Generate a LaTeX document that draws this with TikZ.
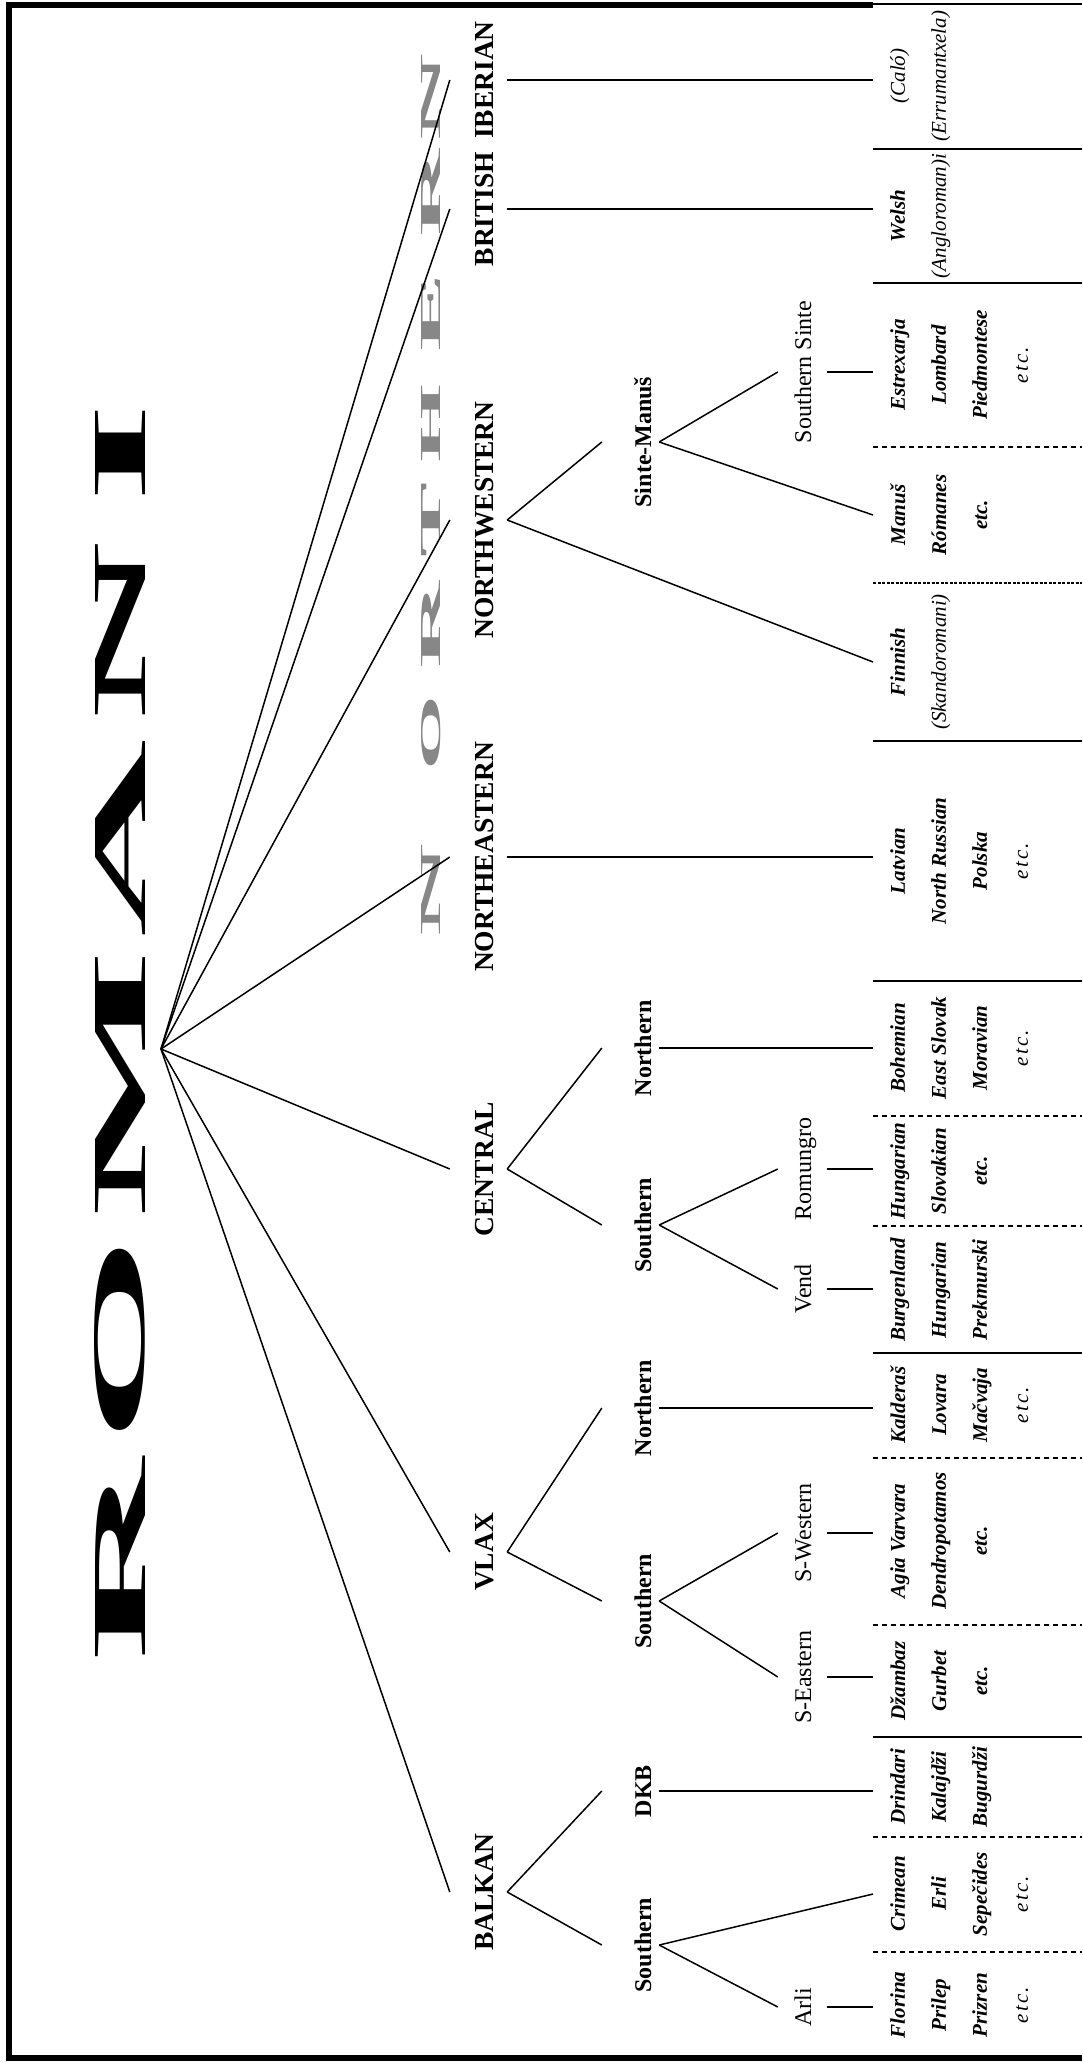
\documentclass[tikz,border=0pt]{standalone}
\usepackage{fontspec}
\setmainfont{Liberation Serif}
\usepackage{graphicx}

\definecolor{ghost}{gray}{0.53}
\newcommand\litetext[1]{{\mdseries #1}}
\newcommand\etcnote{{\mdseries\addfontfeature{LetterSpace=10}etc.}}

\tikzset{
  famlabel/.style={rotate=90, anchor=base, inner sep=0pt, text height=43pt, text depth=14pt,
    font=\fontsize{27.5}{30}\selectfont\bfseries},
  grouplabel/.style={rotate=90, anchor=base, inner sep=0pt, text height=49pt, text depth=8pt,
    font=\fontsize{24}{28}\selectfont\bfseries},
  dialabel/.style={rotate=90, anchor=base, inner sep=0pt, text height=33pt, text depth=16pt,
    font=\fontsize{24}{28}\selectfont},
  cellbox/.style={rotate=90, anchor=north, align=center, inner xsep=0pt, inner ysep=17pt,
    font=\fontsize{21}{41}\selectfont\bfseries\itshape},
  titleletter/.style={rotate=90, inner sep=0pt, font=\bfseries},
  ghostletter/.style={rotate=90, inner sep=0pt, font=\bfseries, text=ghost},
  branch/.style={line width=1.5pt},
  solidsep/.style={line width=1.3pt},
  dashsep/.style={line width=2pt, dash pattern=on 5pt off 4pt},
  densesep/.style={line width=2pt, dash pattern=on 3pt off 1.5pt},
}

\begin{document}
\begin{tikzpicture}[x=1pt,y=-1pt]
  \useasboundingbox (0,0) rectangle (1082,2063);

  % frame
  \draw[line width=5.5pt, line join=miter] (1082,2058) -| (9,5) -- (873,5);
  \draw[solidsep] (873,4) -- (1082,4);

  % title and the grey NORTHERN behind the fan
  \foreach \ch/\yc/\w [count=\i] in {R/1560/203, O/1340/207, M/1083/268, A/838/198, N/630/178, I/453/101}
    \node[titleletter] (title\i) at (120,\yc) {\resizebox{\w pt}{50pt}{\ch}};
  \foreach \ch/\yc/\w [count=\i] in {N/890/93, O/733/75, R/625/87, T/520/75, H/423/78, E/312/78, R/193/87, N/97/87}
    \node[ghostletter] (ghost\i) at (431,\yc) {\resizebox{\w pt}{19pt}{\ch}};

  % table rules
  \foreach \y in {149,283,741,981,1353,1737}
    \draw[solidsep] (873,\y) -- (1082,\y);
  \foreach \y in {447,1116,1226,1458,1625,1837,1952}
    \draw[dashsep] (873,\y) -- (1082,\y);
  \draw[densesep] (873,583) -- (1082,583);

  % branches
  \coordinate (root) at (161,1049);
  \node[famlabel] (iberian) at (493,80) {IBERIAN};
  \node[famlabel] (british) at (493,209) {BRITISH};
  \node[famlabel] (nw) at (493,520) {NORTHWESTERN};
  \node[famlabel] (ne) at (493,857) {NORTHEASTERN};
  \node[famlabel] (central) at (493,1169) {CENTRAL};
  \node[famlabel] (vlax) at (493,1552) {VLAX};
  \node[famlabel] (balkan) at (493,1892) {BALKAN};

  \node[grouplabel] (sintemanus) at (651,442) {Sinte-Manuš};
  \node[grouplabel] (cnorth) at (651,1048) {Northern};
  \node[grouplabel] (csouth) at (651,1225) {Southern};
  \node[grouplabel] (vnorth) at (651,1408) {Northern};
  \node[grouplabel] (vsouth) at (651,1601) {Southern};
  \node[grouplabel] (dkb) at (651,1791) {DKB};
  \node[grouplabel] (bsouth) at (651,1945) {Southern};

  \node[dialabel] (ssinte) at (811,372) {Southern Sinte};
  \node[dialabel] (romungro) at (811,1169) {Romungro};
  \node[dialabel] (vend) at (811,1289) {Vend};
  \node[dialabel] (swestern) at (811,1533) {S-Western};
  \node[dialabel] (seastern) at (811,1677) {S-Eastern};
  \node[dialabel] (arli) at (811,2007) {Arli};

  % dialects
  \node[cellbox] (ibcell) at (873,76) {\litetext{(Caló)}\\\litetext{(Errumantxela)}};
  \node[cellbox] (brcell) at (873,216) {Welsh\\\litetext{(Angloroman)i}};
  \node[cellbox] (sscell) at (873,365) {Estrexarja\\Lombard\\Piedmontese\\\etcnote};
  \node[cellbox] (manuscell) at (873,515) {Manuš\\Rómanes\\etc.};
  \node[cellbox] (fincell) at (873,662) {Finnish\\\litetext{(Skandoromani)}};
  \node[cellbox] (necell) at (873,861) {Latvian\\North Russian\\Polska\\\etcnote};
  \node[cellbox] (cncell) at (873,1048) {Bohemian\\East Slovak\\Moravian\\\etcnote};
  \node[cellbox] (romcell) at (873,1171) {Hungarian\\Slovakian\\etc.};
  \node[cellbox] (vendcell) at (873,1290) {Burgenland\\Hungarian\\Prekmurski};
  \node[cellbox] (vncell) at (873,1405) {Kalderaš\\Lovara\\Mačvaja\\\etcnote};
  \node[cellbox] (swcell) at (873,1541) {Agia Varvara\\Dendropotamos\\etc.};
  \node[cellbox] (secell) at (873,1681) {Džambaz\\Gurbet\\etc.};
  \node[cellbox] (dkbcell) at (873,1787) {Drindari\\Kalajdži\\Bugurdži};
  \node[cellbox] (crimcell) at (873,1894) {Crimean\\Erli\\Sepečides\\\etcnote};
  \node[cellbox] (arlicell) at (873,2005) {Florina\\Prilep\\Prizren\\\etcnote};

  % connectors
  \foreach \f in {iberian,british,nw,ne,central,vlax,balkan}
    \draw[branch] (root) -- (\f.north);
  \foreach \p/\q in {iberian/ibcell, british/brcell, ne/necell, cnorth/cncell, vnorth/vncell,
      dkb/dkbcell, ssinte/sscell, romungro/romcell, vend/vendcell, swestern/swcell,
      seastern/secell, arli/arlicell}
    \draw[branch] (\p.south) -- (\p.south -| \q.north);
  \foreach \p/\q in {nw/sintemanus, nw/fincell, sintemanus/ssinte, sintemanus/manuscell,
      central/cnorth, central/csouth, csouth/romungro, csouth/vend, vlax/vnorth, vlax/vsouth,
      vsouth/swestern, vsouth/seastern, balkan/dkb, balkan/bsouth, bsouth/crimcell, bsouth/arli}
    \draw[branch] (\p.south) -- (\q.north);
\end{tikzpicture}
\end{document}
